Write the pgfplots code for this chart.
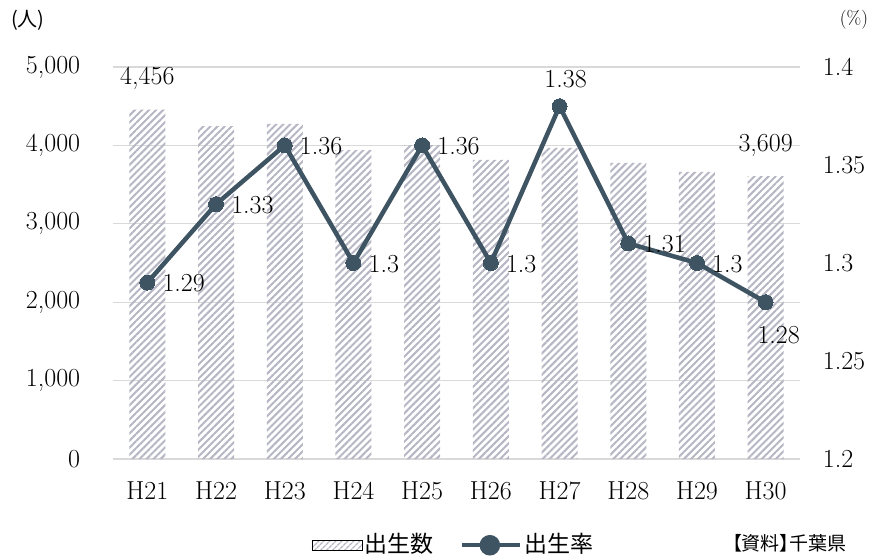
\documentclass[border=0pt]{standalone}
\usepackage{fontspec}
\usepackage{pgfplots}
\pgfplotsset{compat=1.18}
\usepackage{pgfplotstable}
\usetikzlibrary{patterns.meta}
\newfontfamily\jp{Noto Sans CJK JP}
\newfontfamily\jpp[RawFeature=+palt]{Noto Sans CJK JP}
\definecolor{linec}{RGB}{62,84,98}
\definecolor{hatch}{RGB}{182,182,196}
\definecolor{gridc}{RGB}{217,217,217}

\pgfplotstableread{
x births label
0 4456 {4,456}
1 4247 {}
2 4273 {}
3 3941 {}
4 4005 {}
5 3814 {}
6 3967 {}
7 3776 {}
8 3661 {}
9 3609 {3,609}
}\births

\pgfplotstableread{
x rate label
0 1.29 1.29
1 1.33 1.33
2 1.36 1.36
3 1.30 1.3
4 1.36 1.36
5 1.30 1.3
6 1.38 1.38
7 1.31 1.31
8 1.30 1.3
9 1.28 1.28
}\ratetab

\begin{document}
\fontsize{26}{30}\selectfont
\begin{tikzpicture}
\useasboundingbox (-113pt,-97pt) rectangle (764pt,459pt);
\begin{axis}[
  at={(0,0)}, anchor=south west,
  scale only axis, width=687pt, height=392pt,
  xmin=-0.5, xmax=9.5, ymin=0, ymax=5000,
  xtick={0,...,9},
  xticklabels={H21,H22,H23,H24,H25,H26,H27,H28,H29,H30},
  ytick={0,1000,2000,3000,4000,5000},
  yticklabels={0,{1,000},{2,000},{3,000},{4,000},{5,000}},
  tick label style={font=\fontsize{26}{30}\selectfont},
  xticklabel style={yshift=-14pt},
  yticklabel style={xshift=-24pt},
  axis line style={draw=none},
  major tick length=0pt,
  ymajorgrids, grid style={gridc, line width=1.3pt},
  clip=false,
]
\addplot[ybar, bar width=36pt, draw=none,
  pattern={Lines[angle=45,distance=5pt,line width=2pt]}, pattern color=hatch,
  nodes near coords, point meta=explicit symbolic,
  every node near coord/.append style={font=\fontsize{26}{30}\selectfont, anchor=center, yshift=31pt, text=black}]
  table[x=x, y=births, meta=label] {\births};
\node[anchor=center, font=\jp\fontsize{20}{24}\selectfont] at (rel axis cs:0,0) [xshift=-85pt, yshift=439pt] {(人)};
\node[anchor=center, font=\fontsize{19}{23}\selectfont] at (rel axis cs:1,0) [xshift=54pt, yshift=439pt] {(\%)};
\node[anchor=base east, font=\jpp\fontsize{19}{23}\selectfont] at (rel axis cs:1,0) [xshift=55pt, yshift=-91pt] {【資料】千葉県};
\end{axis}
\begin{axis}[
  at={(0,0)}, anchor=south west,
  scale only axis, width=687pt, height=392pt,
  xmin=-0.5, xmax=9.5, ymin=1.2, ymax=1.4,
  axis y line*=right, axis x line=none,
  axis line style={draw=none},
  ytick={1.2,1.25,1.3,1.35,1.4},
  yticklabels={1.2,1.25,1.3,1.35,1.4},
  tick label style={font=\fontsize{26}{30}\selectfont},
  yticklabel style={xshift=14pt},
  major tick length=0pt,
  clip=false,
  legend style={at={(0.495,-0.22)}, anchor=center, draw=none, fill=none,
    legend columns=2, font=\jp\fontsize{23}{27}\selectfont,
    /tikz/every even column/.append style={column sep=24pt},
    legend cell align=left, inner sep=0pt},
]
\addlegendimage{legend image code/.code={
  \fill[pattern={Lines[angle=45,distance=4pt,line width=1.6pt]}, pattern color=hatch] (0pt,-5pt) rectangle (50pt,5pt);}}
\addlegendentry{出生数}
\addplot[linec, line width=4.5pt, mark=*, mark size=7.5pt,
  mark options={fill=linec, draw=linec, line width=0pt},
  legend image code/.code={
    \draw[linec, line width=4.5pt] (0pt,0pt) -- (58pt,0pt);
    \fill[linec] (28pt,0pt) circle (8pt);}]
  table[x=x, y=rate] {\ratetab};
\addlegendentry{出生率}
\addplot[draw=none, mark=none, forget plot,
  skip coords between index={6}{7}, skip coords between index={9}{10},
  nodes near coords, point meta=explicit symbolic,
  every node near coord/.append style={font=\fontsize{26}{30}\selectfont, text=black,
    anchor=west, xshift=13pt, yshift=-1pt, inner sep=2pt}]
  table[x=x, y=rate, meta=label] {\ratetab};
\addplot[draw=none, mark=none, forget plot,
  skip coords between index={0}{6}, skip coords between index={7}{10},
  nodes near coords, point meta=explicit symbolic,
  every node near coord/.append style={font=\fontsize{26}{30}\selectfont, text=black,
    anchor=south, xshift=6pt, yshift=16pt, inner sep=2pt}]
  table[x=x, y=rate, meta=label] {\ratetab};
\addplot[draw=none, mark=none, forget plot,
  skip coords between index={0}{9},
  nodes near coords, point meta=explicit symbolic,
  every node near coord/.append style={font=\fontsize{26}{30}\selectfont, text=black,
    anchor=north, xshift=13pt, yshift=-22pt, inner sep=2pt}]
  table[x=x, y=rate, meta=label] {\ratetab};
\end{axis}
\end{tikzpicture}
\end{document}
